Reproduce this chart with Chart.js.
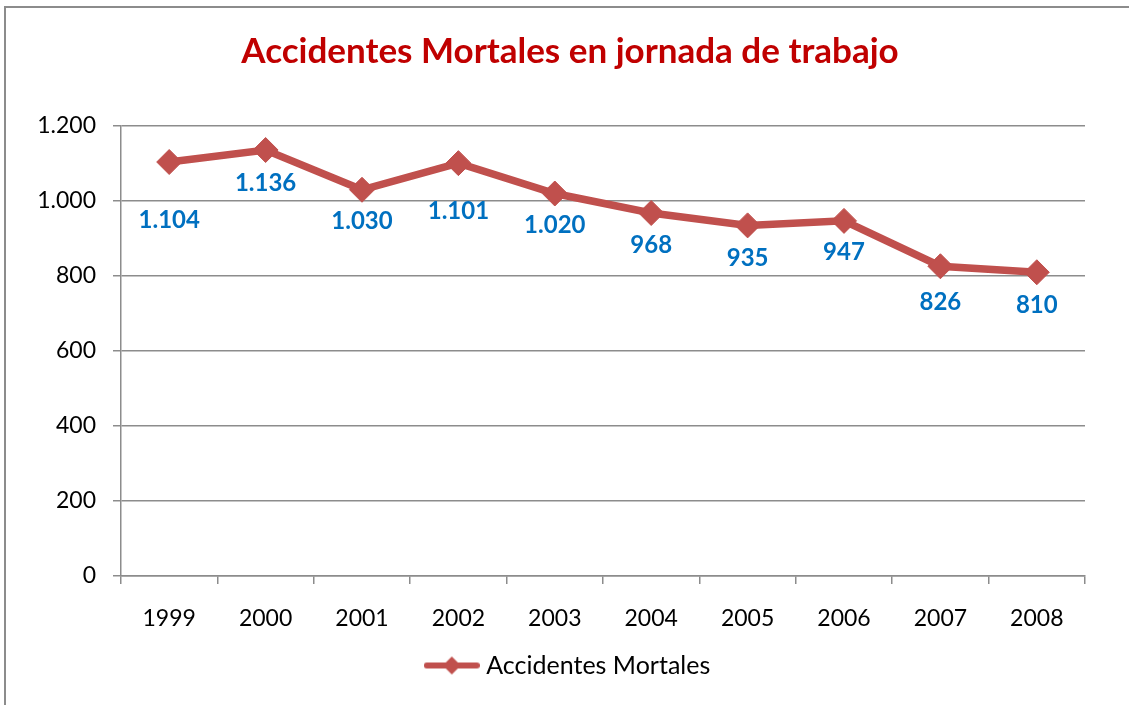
<!DOCTYPE html>
<html>
<head>
<meta charset="utf-8">
<script src="https://cdn.jsdelivr.net/npm/chart.js@4/dist/chart.umd.min.js"></script>
<style>
  html, body { margin: 0; padding: 0; background: #fff; }
  #wrap { position: relative; width: 1129px; height: 705px; overflow: hidden; }
  #frame { position: absolute; left: 4px; top: 6px; width: 2000px; height: 2000px;
           border-left: 2px solid #8c8c8c; border-top: 2px solid #8c8c8c; }
  canvas { position: absolute; left: 0; top: 0; }
</style>
</head>
<body>
<div id="wrap">
  <div id="frame"></div>
  <canvas id="chart" width="1129" height="705"></canvas>
</div>
<script>
const TITLE = "Accidentes Mortales en jornada de trabajo";
const SERIES_NAME = "Accidentes Mortales";
const years = ["1999", "2000", "2001", "2002", "2003", "2004", "2005", "2006", "2007", "2008"];
const deaths = [1104, 1136, 1030, 1101, 1020, 968, 935, 947, 826, 810];
const yTicks = [0, 200, 400, 600, 800, 1000, 1200];

const FONT = "Lato, 'Open Sans', sans-serif";
const RED = "#C0504D";
const BLUE = "#0070C0";
const GRID = "#8c8c8c";

// thousands separator with a dot, as in the Spanish original
function fmt(n) { return String(n).replace(/\B(?=(\d{3})+(?!\d))/g, "."); }

// legend swatch: line with diamond
function legendIcon() {
    const c = document.createElement("canvas");
    c.width = 56; c.height = 22;
    const g = c.getContext("2d");
    g.strokeStyle = RED; g.lineWidth = 6; g.lineCap = "round";
    g.beginPath(); g.moveTo(3, 11); g.lineTo(53, 11); g.stroke();
    g.fillStyle = RED;
    g.beginPath(); g.moveTo(28, 2); g.lineTo(37, 11); g.lineTo(28, 20); g.lineTo(19, 11); g.closePath(); g.fill();
    return c;
}

// data labels under each point
const labelPlugin = {
    id: "pointLabels",
    afterDatasetsDraw(chart, args, opts) {
        const { ctx } = chart;
        const meta = chart.getDatasetMeta(0);
        ctx.save();
        ctx.font = `bold ${opts.size}px ${FONT}`;
        ctx.fillStyle = BLUE;
        ctx.textAlign = "center";
        ctx.textBaseline = "middle";
        meta.data.forEach((pt, i) => {
            const dy = opts.offsets[i] ?? opts.offset;
            ctx.fillText(fmt(chart.data.datasets[0].data[i]), pt.x, pt.y + dy);
        });
        ctx.restore();
    }
};

new Chart(document.getElementById("chart"), {
    type: "line",
    data: {
        labels: years,
        datasets: [{
            label: SERIES_NAME,
            data: deaths,
            borderColor: RED,
            backgroundColor: RED,
            borderWidth: 7.5,
            pointStyle: "rectRot",
            pointRadius: 12.5,
            pointBorderWidth: 1,
            pointBorderColor: RED,
            pointBackgroundColor: RED,
            tension: 0
        }]
    },
    options: {
        responsive: false,
        animation: false,
        layout: { padding: { left: 11, right: 0, top: 0, bottom: 17 } },
        plugins: {
            title: {
                display: true, text: TITLE, color: "#C00000",
                font: { family: FONT, size: 35, weight: "bold" },
                padding: { top: 31, bottom: 53 }
            },
            legend: {
                position: "bottom",
                labels: {
                    usePointStyle: true,
                    pointStyleWidth: 44,
                    color: "#000",
                    font: { family: FONT, size: 25 },
                    padding: 10,
                    generateLabels: (chart) => [{
                        text: SERIES_NAME, pointStyle: legendIcon(), datasetIndex: 0,
                        fillStyle: RED, strokeStyle: RED, lineWidth: 0, fontColor: "#000"
                    }]
                }
            },
            tooltip: { enabled: false },
            pointLabels: { size: 24, offset: 33, offsets: [58, 33, 32, 48, 32, 32, 33, 31, 36, 33] }
        },
        scales: {
            x: {
                offset: true,
                grid: { offset: true, drawOnChartArea: false, drawTicks: true, tickLength: 8, color: GRID, lineWidth: 1.5 },
                border: { display: true, color: GRID, width: 1.5 },
                ticks: { color: "#000", font: { family: FONT, size: 23 }, padding: 21 },
                afterFit: (s) => { s.height = 67; }
            },
            y: {
                min: 0, max: 1200,
                afterBuildTicks: (s) => { s.ticks = yTicks.map(v => ({ value: v })); },
                grid: { color: GRID, lineWidth: 1.5, tickLength: 8 },
                border: { display: true, color: GRID, width: 1.5 },
                ticks: { color: "#000", font: { family: FONT, size: 23 }, padding: 17, callback: (v) => fmt(v) },
                afterFit: (s) => { s.width = 110; }
            },
            // empty right-hand spacer so the plot ends where the original does
            yRight: {
                position: "right", display: true,
                grid: { display: false }, border: { display: false },
                ticks: { display: false },
                afterFit: (s) => { s.width = 44; }
            }
        }
    },
    plugins: [labelPlugin]
});
</script>
</body>
</html>
